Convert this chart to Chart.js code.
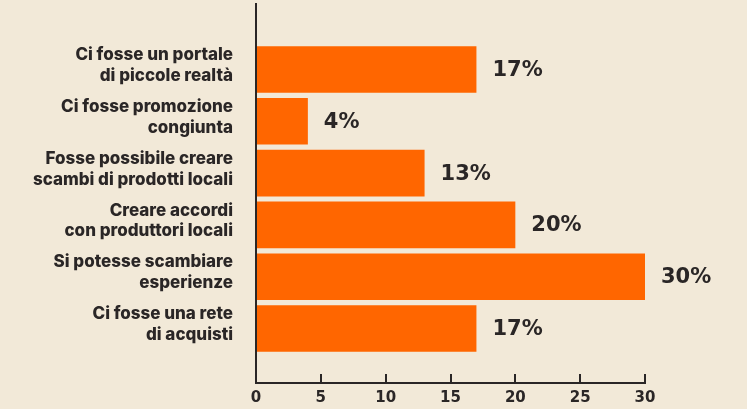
<!DOCTYPE html>
<html>
<head>
<meta charset="utf-8">
<script src="https://cdn.jsdelivr.net/npm/chart.js@4.4.1/dist/chart.umd.min.js"></script>
<style>
  html, body { margin: 0; padding: 0; background: #f2e9d8; }
  #wrap { width: 747px; height: 409px; }
</style>
</head>
<body>
<div id="wrap"><canvas id="chart" width="747" height="409"></canvas></div>
<script>
// Data
const categories = [
  ['Ci fosse un portale', 'di piccole realtà'],
  ['Ci fosse promozione', 'congiunta'],
  ['Fosse possibile creare', 'scambi di prodotti locali'],
  ['Creare accordi', 'con produttori locali'],
  ['Si potesse scambiare', 'esperienze'],
  ['Ci fosse una rete', 'di acquisti']
];
const values = [17, 4, 13, 20, 30, 17];
const xTicks = [0, 5, 10, 15, 20, 25, 30];

const ink = '#2a2626';
const barColor = '#ff6600';

// Percent labels at the end of each bar
const valueLabels = {
  id: 'valueLabels',
  afterDatasetsDraw(chart) {
    const ctx = chart.ctx;
    const meta = chart.getDatasetMeta(0);
    ctx.save();
    ctx.fillStyle = ink;
    ctx.font = 'bold 21px "DejaVu Sans"';
    ctx.textAlign = 'left';
    ctx.textBaseline = 'middle';
    meta.data.forEach((bar, i) => {
      ctx.fillText(values[i] + '%', bar.x + 16, bar.y + 1);
    });
    ctx.restore();
  }
};

new Chart(document.getElementById('chart').getContext('2d'), {
  type: 'bar',
  data: {
    datasets: [{
      data: values.map((v, i) => ({ x: v, y: i })),
      backgroundColor: barColor,
      borderWidth: 0,
      categoryPercentage: 0.9,
      barPercentage: 1
    }]
  },
  options: {
    indexAxis: 'y',
    responsive: false,
    animation: false,
    layout: { padding: { top: 4, right: 102, left: 0, bottom: 0 } },
    plugins: {
      legend: { display: false },
      tooltip: { enabled: false }
    },
    scales: {
      x: {
        type: 'linear',
        min: 0,
        max: 30,
        afterBuildTicks: scale => { scale.ticks = xTicks.map(v => ({ value: v })); },
        afterFit: scale => { scale.height = 26; scale.paddingLeft = 0; scale.paddingRight = 0; },
        border: { display: true, color: ink, width: 2 },
        grid: { drawOnChartArea: false, drawTicks: true, tickLength: -9, color: ink, lineWidth: 2 },
        ticks: {
          color: ink,
          padding: 15,
          font: { family: 'DejaVu Sans', weight: 'bold', size: 15 }
        }
      },
      y: {
        type: 'linear',
        reverse: true,
        offset: false,
        min: -1.264,
        max: 6.052,
        afterBuildTicks: scale => { scale.ticks = categories.map((c, i) => ({ value: i })); },
        afterFit: scale => { scale.width = 256; scale.paddingTop = 0; scale.paddingBottom = 0; },
        border: { display: true, color: ink, width: 2 },
        grid: { drawOnChartArea: false, drawTicks: false, offset: false },
        ticks: {
          color: ink,
          padding: 23,
          labelOffset: -4,
          callback: v => categories[v],
          font: { family: 'Inter', weight: '800', size: 17, lineHeight: 1.22 }
        }
      }
    }
  },
  plugins: [valueLabels]
});
</script>
</body>
</html>
